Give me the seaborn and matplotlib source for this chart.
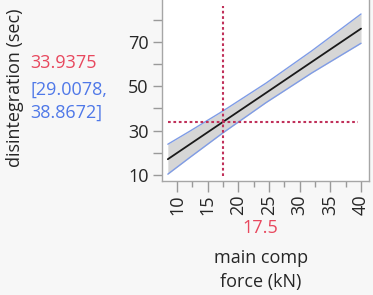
import matplotlib
matplotlib.use("Agg")
import matplotlib.pyplot as plt
import seaborn as sns
import pandas as pd
from matplotlib.ticker import FixedLocator

# data
force = [8.5, 12.0, 17.5, 24.5, 32.0, 40.0]
fit = [17.1, 23.65, 33.9375, 47.0, 61.05, 76.0]
lower = [10.35, 17.7, 29.0078, 42.6, 56.06, 69.4]
upper = [23.85, 29.6, 38.8672, 51.4, 66.04, 82.6]
current_x = 17.5
current_y = 33.9375
ci_text = ["[29.0078,", "38.8672]"]
x_ticks = [10, 15, 20, 25, 30, 35, 40]
y_ticks = [10, 30, 50, 70]

sns.set_theme(style="white")
plt.rcParams['font.family'] = ['Open Sans', 'DejaVu Sans']

df = pd.DataFrame({"force": force, "fit": fit})

fig = plt.figure(figsize=(3.73, 2.95), dpi=100, facecolor="#f7f7f7")
ax = fig.add_axes([162 / 373, (295 - 180.7) / 295, (369 - 162) / 373, (180.7 + 2.4) / 295])
ax.set_facecolor("white")

ax.fill_between(force, lower, upper, color="#d6d6d6", linewidth=0, zorder=1)
ax.plot(force, lower, color="#7f9ce6", lw=1.0, zorder=2)
ax.plot(force, upper, color="#7f9ce6", lw=1.0, zorder=2)
sns.lineplot(data=df, x="force", y="fit", color="#1a1a1a", lw=1.3, ax=ax, zorder=3)

red = "#c0305a"
ax.plot([current_x, current_x], [9.5, 86.2], color=red, lw=1.5, ls=(0, (1.3, 1.3)), zorder=4)
ax.plot([8.5, 39.5], [current_y, current_y], color=red, lw=1.5, ls=(0, (1.3, 1.3)), zorder=4)

ax.set_xlim(7.55, 41.3)
ax.set_ylim(7.4, 90)
ax.xaxis.set_major_locator(FixedLocator(x_ticks))
ax.xaxis.set_minor_locator(FixedLocator([12.5, 17.5, 22.5, 27.5, 32.5, 37.5]))
ax.yaxis.set_major_locator(FixedLocator(y_ticks))
ax.yaxis.set_minor_locator(FixedLocator([20, 40, 60, 80]))

for s in ax.spines.values():
    s.set_color("#a6a6a6")
    s.set_linewidth(1.0)
ax.spines["top"].set_visible(False)

fs = 13
ax.tick_params(axis="x", which="major", bottom=True, length=8, width=1, color="#9a9a9a",
               labelsize=fs, labelcolor="#262626", labelrotation=90, pad=2)
ax.tick_params(axis="x", which="minor", bottom=True, length=4.5, width=1, color="#9a9a9a")
ax.tick_params(axis="y", which="both", left=True, length=6.5, width=1, color="#9a9a9a",
               labelsize=fs, labelcolor="#262626", pad=3)

ax.set_xlabel("")
ax.set_ylabel("")

fig.text(260 / 373, 1 - 228 / 295, "17.5", color="#e8485e", fontsize=fs, ha="center", va="center")
fig.text(261 / 373, 1 - 258 / 295, "main comp", color="#262626", fontsize=fs, ha="center", va="center")
fig.text(261 / 373, 1 - 282 / 295, "force (kN)", color="#262626", fontsize=fs, ha="center", va="center")

fig.text(15 / 373, 1 - 88 / 295, "disintegration (sec)", color="#262626", fontsize=fs,
         rotation=90, ha="center", va="center")
fig.text(30 / 373, 1 - 63 / 295, f"{current_y}", color="#e8485e", fontsize=fs, ha="left", va="center")
fig.text(30 / 373, 1 - 90 / 295, ci_text[0], color="#4f78e8", fontsize=fs, ha="left", va="center")
fig.text(30 / 373, 1 - 113 / 295, ci_text[1], color="#4f78e8", fontsize=fs, ha="left", va="center")

fig.savefig("out.png", dpi=100, facecolor=fig.get_facecolor())
